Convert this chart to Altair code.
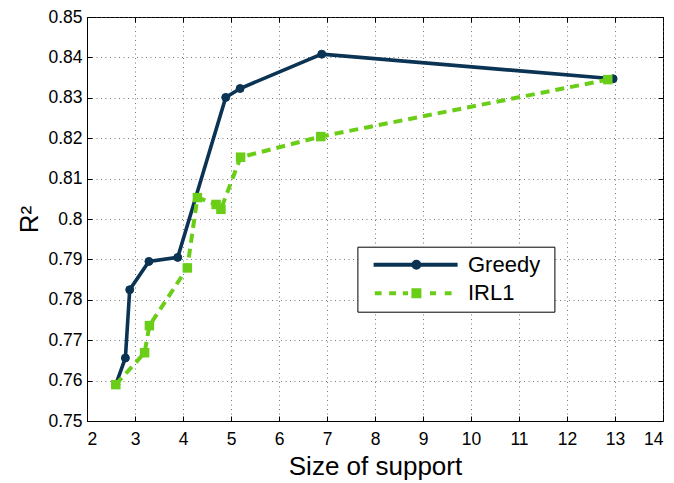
import altair as alt
import pandas as pd

# ---- data ----
series_names = ["Greedy", "IRL1"]
greedy_size = [2.60, 2.80, 2.89, 3.29, 3.89, 4.89, 5.19, 6.89, 12.96]
greedy_r2 = [0.7590, 0.7656, 0.7825, 0.7895, 0.7905, 0.8301, 0.8323, 0.8408, 0.8347]
irl1_size = [2.60, 3.20, 3.30, 4.09, 4.30, 4.69, 4.79, 5.20, 6.87, 12.85]
irl1_r2 = [0.7590, 0.7669, 0.7736, 0.7879, 0.8053, 0.8036, 0.8024, 0.8153, 0.8204, 0.8345]
x_ticks = [2, 3, 4, 5, 6, 7, 8, 9, 10, 11, 12, 13, 14]
y_ticks = [0.75, 0.76, 0.77, 0.78, 0.79, 0.80, 0.81, 0.82, 0.83, 0.84, 0.85]

NAVY = "#0a3354"
GREEN = "#6acd17"
FONT = "Liberation Sans"

df = pd.concat([
    pd.DataFrame({"size": greedy_size, "r2": greedy_r2, "series": series_names[0]}),
    pd.DataFrame({"size": irl1_size, "r2": irl1_r2, "series": series_names[1]}),
], ignore_index=True)

# legend symbols: line + marker drawn as custom paths (1 unit = 4 px at size 64);
# the trailing move-to only widens the legend box to the reference's width
PATH_GREEDY = ("M-10.7,0H10.3"
               "M-0.25,0A0.25,0.25,0,1,1,0.25,0A0.25,0.25,0,1,1,-0.25,0"
               "M-0.75,0A0.75,0.75,0,1,1,0.75,0A0.75,0.75,0,1,1,-0.75,0"
               "M30.6,0")
PATH_IRL1 = ("M-10.4,0H-8.7M-6.8,0H-5.1M-3.4,0H-2.1M3.4,0H4.9M7.1,0H8.8"
             "M-0.75,-0.75H0.75V0.75H-0.75Z"
             "M-0.25,-0.25H0.25V0.25H-0.25Z"
             "M30.6,0")

xs = alt.Scale(domain=[2, 14], nice=False, zero=False)
ys = alt.Scale(domain=[0.75, 0.85], nice=False, zero=False)

base = alt.Chart(df).encode(
    x=alt.X("size:Q", scale=xs, axis=alt.Axis(
        orient="bottom", values=x_ticks, title="Size of support", format="~g",
        labelPadding=9, titlePadding=6)),
    y=alt.Y("r2:Q", scale=ys, axis=alt.Axis(
        orient="left", values=y_ticks, title="R²", format="~g",
        labelPadding=5, titlePadding=5)),
)

is_g = alt.datum.series == series_names[0]
is_i = alt.datum.series == series_names[1]

leg = alt.Legend(
    title=None, orient="none", legendX=270.4, legendY=229.7,
    strokeColor="black", fillColor="white", padding=7,
    labelFont=FONT, labelFontSize=22, labelColor="black",
    symbolSize=64, symbolStrokeWidth=4, symbolOpacity=1,
    symbolOffset=41, labelOffset=40.6, rowPadding=6.5,
)

legend_layer = base.mark_point(filled=False, opacity=0, size=64, strokeWidth=4).encode(
    color=alt.Color("series:N", scale=alt.Scale(domain=series_names, range=[NAVY, GREEN]), legend=leg),
    shape=alt.Shape("series:N", scale=alt.Scale(domain=series_names, range=[PATH_GREEDY, PATH_IRL1]), legend=leg),
)

g_line = base.transform_filter(is_g).mark_line(color=NAVY, strokeWidth=3.6)
g_pts = base.transform_filter(is_g).mark_point(shape="circle", filled=True, size=64, color=NAVY, opacity=1,
                                               stroke=NAVY, strokeWidth=1)
i_line = base.transform_filter(is_i).mark_line(color=GREEN, strokeWidth=4, strokeDash=[9, 6])
i_pts = base.transform_filter(is_i).mark_point(shape="square", filled=True, size=90, color=GREEN, opacity=1)

main = alt.layer(legend_layer, g_line, g_pts, i_line, i_pts)


def tick_axis(orient, values):
    return alt.Axis(orient=orient, values=values, offset=-5, ticks=True, tickSize=5,
                    tickColor="black", tickWidth=1, labels=False, domain=False,
                    grid=False, title=None)


ticks_a = alt.Chart(df).mark_point(opacity=0).encode(
    x=alt.X("size:Q", scale=xs, axis=tick_axis("bottom", x_ticks)),
    y=alt.Y("r2:Q", scale=ys, axis=tick_axis("left", y_ticks)),
)
ticks_b = alt.Chart(df).mark_point(opacity=0).encode(
    x=alt.X("size:Q", scale=xs, axis=tick_axis("top", x_ticks)),
    y=alt.Y("r2:Q", scale=ys, axis=tick_axis("right", y_ticks)),
)

chart = alt.layer(main, ticks_a, ticks_b).resolve_axis(
    x="independent", y="independent"
).properties(
    width=576, height=404,
    autosize=alt.AutoSizeParams(type="none"),
    padding={"left": 79, "top": 9, "right": 3, "bottom": 62},
    background="white",
).configure_view(
    stroke="black", strokeWidth=1
).configure_axis(
    domainColor="black", domainWidth=1, ticks=False,
    grid=True, gridColor="#555555", gridDash=[1, 3.5], gridWidth=1, gridOpacity=0.8,
    labelFont=FONT, labelFontSize=17.5, labelColor="black",
    titleFont=FONT, titleFontSize=26, titleFontWeight="normal", titleColor="black",
)

chart.save("out.html", embed_options={"renderer": "svg", "actions": False})
